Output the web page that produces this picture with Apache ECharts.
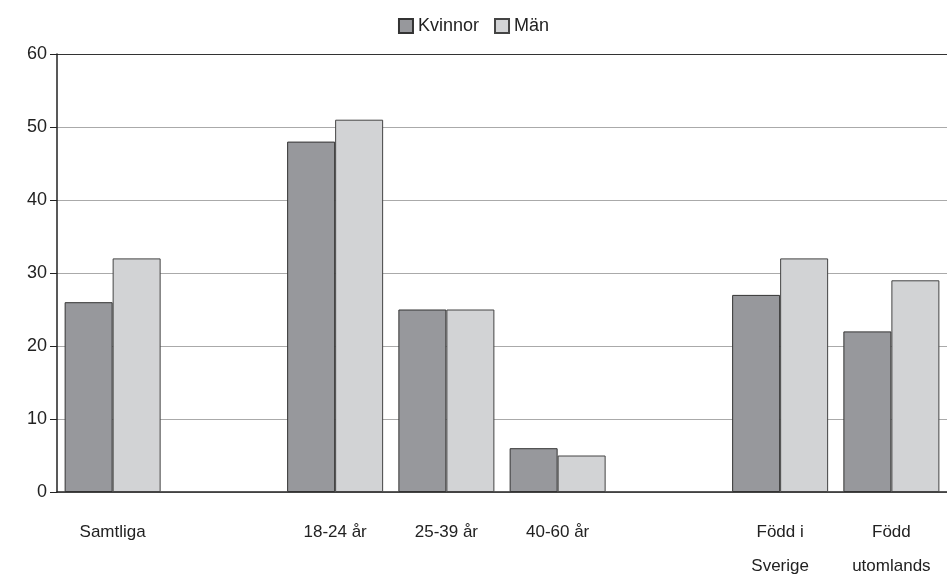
<!DOCTYPE html>
<html><head><meta charset="utf-8">
<script src="https://cdn.jsdelivr.net/npm/echarts@6/dist/echarts.min.js"></script>
<style>html,body{margin:0;padding:0;background:#fff}#c{width:947px;height:576px}</style>
</head><body><div id="c"></div>
<script>
const categories = ['Samtliga', '', '18-24 år', '25-39 år', '40-60 år', '', 'Född i\nSverige', 'Född\nutomlands'];
const kvinnor = [26, null, 48, 25, 6, null, 27, 22];
const man = [32, null, 51, 25, 5, null, 32, 29];
const yTicks = [0, 10, 20, 30, 40, 50, 60];
const seriesNames = ['Kvinnor', 'Män'];

const font = 'Liberation Sans, Arial, sans-serif';
const chart = echarts.init(document.getElementById('c'), null, {renderer: 'canvas'});
chart.setOption({
  animation: false,
  textStyle: {fontFamily: font},
  legend: {
    top: 12, left: 'center',
    itemWidth: 14, itemHeight: 14, itemGap: 15,
    icon: 'rect',
    textStyle: {fontSize: 18, color: '#222', fontFamily: font},
    data: seriesNames
  },
  grid: {left: 57, width: 890, top: 54, height: 438, containLabel: false, outerBoundsMode: 'none'},
  xAxis: {
    type: 'category',
    data: categories,
    axisLine: {lineStyle: {color: '#222', width: 1.5}},
    axisTick: {show: false},
    axisLabel: {fontSize: 17, color: '#222', margin: 30, lineHeight: 34, interval: 0, verticalAlign: 'top', padding: [-7,0,0,0]}
  },
  yAxis: {
    type: 'value', min: yTicks[0], max: yTicks[yTicks.length - 1], interval: 10,
    axisLine: {show: true, lineStyle: {color: '#222', width: 1.5}},
    axisTick: {show: true, length: 7, lineStyle: {color: '#222'}},
    axisLabel: {fontSize: 18, color: '#222', margin: 10},
    splitLine: {show: true, lineStyle: {color: ['#aaa','#aaa','#aaa','#aaa','#aaa','#aaa','#333'], width: 1}}
  },
  series: [
    {name: seriesNames[0], type: 'bar', data: kvinnor, barWidth: 48, barGap: '0%',
     itemStyle: {color: '#97989c', borderColor: '#333', borderWidth: 1}},
    {name: seriesNames[1], type: 'bar', data: man, barWidth: 48,
     itemStyle: {color: '#d2d3d5', borderColor: '#444', borderWidth: 1}}
  ]
});
</script></body></html>
